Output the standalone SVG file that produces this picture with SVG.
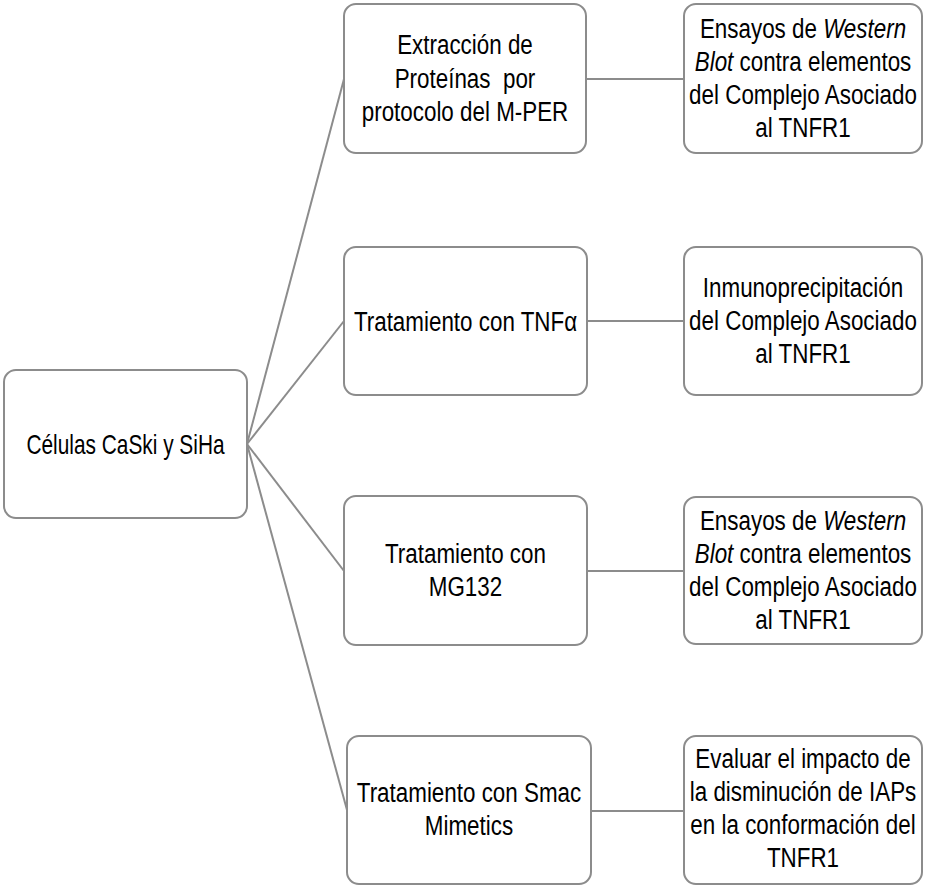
<svg xmlns="http://www.w3.org/2000/svg" width="925" height="886" viewBox="0 0 925 886">
<style>
.box{fill:#ffffff;stroke:#8c8c8c;stroke-width:2}
.t{font-family:"Liberation Sans",Arial,sans-serif;font-size:28px;fill:#000000;text-anchor:middle;white-space:pre}
.i{font-style:italic}
.conn{stroke:#8c8c8c;stroke-width:2;fill:none}
</style>
<rect width="925" height="886" fill="#ffffff"/>
<g id="connectors">
<line class="conn" x1="247" y1="444" x2="344" y2="79"/>
<line class="conn" x1="247" y1="444" x2="344" y2="321"/>
<line class="conn" x1="247" y1="444" x2="344" y2="571"/>
<line class="conn" x1="247" y1="444" x2="347" y2="810"/>
<line class="conn" x1="586" y1="79" x2="684" y2="79"/>
<line class="conn" x1="587" y1="321" x2="684" y2="321"/>
<line class="conn" x1="587" y1="571" x2="684" y2="571"/>
<line class="conn" x1="591" y1="811" x2="684" y2="811"/>
</g>
<g id="n0">
<rect class="box" x="4" y="370" width="243" height="148" rx="12"/>
<text class="t" transform="translate(125.5 0) scale(0.745 1)"><tspan x="0" y="454">Células CaSki y SiHa</tspan></text>
</g>
<g id="n1">
<rect class="box" x="344" y="4" width="242" height="149" rx="12"/>
<text class="t" transform="translate(465 0) scale(0.8 1)"><tspan x="0" y="54">Extracción de</tspan><tspan x="0" y="88">Proteínas  por</tspan><tspan x="0" y="121">protocolo del M-PER</tspan></text>
</g>
<g id="n2">
<rect class="box" x="344" y="247" width="243" height="148" rx="12"/>
<text class="t" transform="translate(465.5 0) scale(0.8 1)"><tspan x="0" y="331">Tratamiento con TNFα</tspan></text>
</g>
<g id="n3">
<rect class="box" x="344" y="496" width="243" height="149" rx="12"/>
<text class="t" transform="translate(465.5 0) scale(0.8 1)"><tspan x="0" y="563">Tratamiento con</tspan><tspan x="0" y="596">MG132</tspan></text>
</g>
<g id="n4">
<rect class="box" x="347" y="736" width="244" height="148" rx="12"/>
<text class="t" transform="translate(469 0) scale(0.8 1)"><tspan x="0" y="802">Tratamiento con Smac</tspan><tspan x="0" y="835">Mimetics</tspan></text>
</g>
<g id="r1">
<rect class="box" x="684" y="4" width="238" height="149" rx="12"/>
<text class="t" transform="translate(803 0) scale(0.8 1)"><tspan x="0" y="38">Ensayos de <tspan class="i">Western</tspan></tspan><tspan x="0" y="71"><tspan class="i">Blot</tspan> contra elementos</tspan><tspan x="0" y="104">del Complejo Asociado</tspan><tspan x="0" y="137">al TNFR1</tspan></text>
</g>
<g id="r2">
<rect class="box" x="684" y="247" width="238" height="148" rx="12"/>
<text class="t" transform="translate(803 0) scale(0.8 1)"><tspan x="0" y="297">Inmunoprecipitación</tspan><tspan x="0" y="330">del Complejo Asociado</tspan><tspan x="0" y="363">al TNFR1</tspan></text>
</g>
<g id="r3">
<rect class="box" x="684" y="497" width="238" height="147" rx="12"/>
<text class="t" transform="translate(803 0) scale(0.8 1)"><tspan x="0" y="530">Ensayos de <tspan class="i">Western</tspan></tspan><tspan x="0" y="563"><tspan class="i">Blot</tspan> contra elementos</tspan><tspan x="0" y="596">del Complejo Asociado</tspan><tspan x="0" y="629">al TNFR1</tspan></text>
</g>
<g id="r4">
<rect class="box" x="684" y="736" width="238" height="148" rx="12"/>
<text class="t" transform="translate(803 0) scale(0.8 1)"><tspan x="0" y="768">Evaluar el impacto de</tspan><tspan x="0" y="801">la disminución de IAPs</tspan><tspan x="0" y="834">en la conformación del</tspan><tspan x="0" y="867">TNFR1</tspan></text>
</g>
</svg>
